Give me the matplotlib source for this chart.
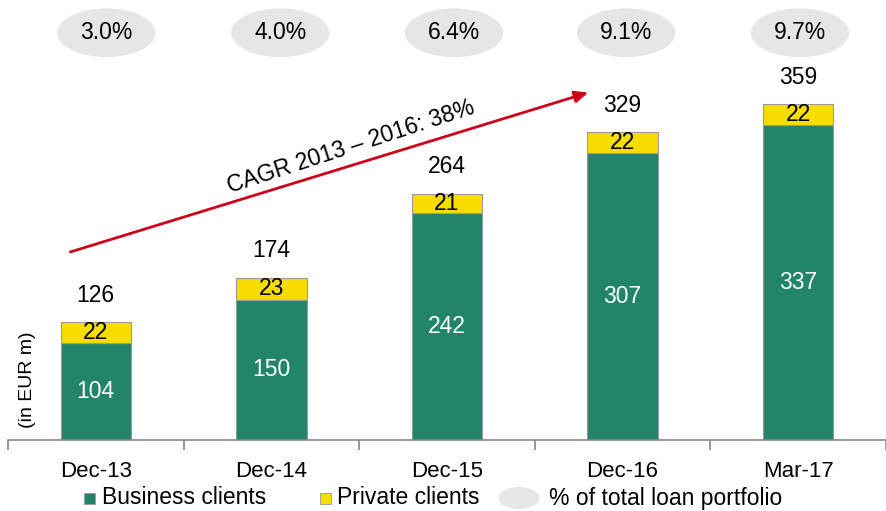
import numpy as np
import matplotlib.pyplot as plt
from matplotlib.patches import Ellipse, Rectangle

plt.rcParams['font.family'] = ['Liberation Sans', 'DejaVu Sans']

# data
periods = ['Dec-13', 'Dec-14', 'Dec-15', 'Dec-16', 'Mar-17']
business = [104, 150, 242, 307, 337]
private = [22, 23, 21, 22, 22]
totals = [126, 174, 264, 329, 359]
share = ['3.0%', '4.0%', '6.4%', '9.1%', '9.7%']
cagr_text = 'CAGR 2013 \u2013 2016: 38%'
legend_labels = ['Business clients', 'Private clients', '% of total loan portfolio']

green = '#21846B'
yellow = '#F7DC00'
grey = '#E6E6E6'
red = '#D0021B'

W, H = 886, 511
fig = plt.figure(figsize=(W / 100, H / 100), dpi=100)
ax = fig.add_axes([8 / W, 71 / H, 878 / W, 440 / H])

x = np.arange(len(periods))
w = 0.4
ax.bar(x, business, width=w, color=green, edgecolor='#9a9a9a', linewidth=0.8)
ax.bar(x, private, width=w, bottom=business, color=yellow, edgecolor='#9a9a9a', linewidth=0.8)

bubble_dx = [0.06, 0.05, 0.04, 0.02, 0.01]  # bubbles sit a bit right of the bars

for i in range(len(periods)):
    ax.text(x[i], business[i] / 2, str(business[i]), ha='center', va='center',
            color='white', fontsize=16.5)
    ax.text(x[i], business[i] + private[i] / 2, str(private[i]), ha='center', va='center',
            color='black', fontsize=16.5)
    ax.text(x[i], totals[i] + 28, str(totals[i]), ha='center', va='center',
            color='black', fontsize=16.5)
    # grey bubble with share of loan portfolio
    bx = x[i] + bubble_dx[i]
    ax.add_patch(Ellipse((bx, 435), 0.56, 52, color=grey, lw=0, clip_on=False))
    ax.text(bx, 435, share[i], ha='center', va='center', fontsize=16.5)

# CAGR arrow
ax.annotate('', xy=(2.82, 372), xytext=(-0.16, 200),
            arrowprops=dict(arrowstyle='-|>,head_length=0.8,head_width=0.35',
                            color=red, lw=2))
ax.text(1.45, 313, cagr_text, ha='center', va='center', rotation=18,
        fontsize=16.5, rotation_mode='anchor')

ax.set_xlim(-0.5, 4.5)
ax.set_ylim(0, 470)
for s in ['top', 'right', 'left']:
    ax.spines[s].set_visible(False)
ax.spines['bottom'].set_color('#888888')
ax.spines['bottom'].set_linewidth(1.2)
ax.set_yticks([])
ax.set_xticks(x)
ax.set_xticklabels(periods, fontsize=16)
ax.tick_params(axis='x', which='major', length=0, pad=15)
ax.set_xticks(np.arange(-0.5, 5, 1), minor=True)
ax.tick_params(axis='x', which='minor', length=7, color='#888888', width=1.2)

fig.text(28 / W, 1 - 380 / H, '(in EUR m)', rotation=90, ha='center',
         va='center', fontsize=14)

# legend, laid out by hand (pixel positions)
ly = 1 - 498 / H
fig.add_artist(Rectangle((84 / W, 1 - 504 / H), 11 / W, 11 / H, facecolor=green,
                         edgecolor='#9a9a9a', lw=0.6, transform=fig.transFigure))
fig.text(102 / W, ly, legend_labels[0], ha='left', va='center', fontsize=16.5)
fig.add_artist(Rectangle((320 / W, 1 - 504 / H), 11 / W, 11 / H, facecolor=yellow,
                         edgecolor='#9a9a9a', lw=0.6, transform=fig.transFigure))
fig.text(337 / W, ly, legend_labels[1], ha='left', va='center', fontsize=16.5)
fig.add_artist(Ellipse((519 / W, 1 - 498 / H), 41 / W, 22 / H, facecolor=grey,
                       lw=0, transform=fig.transFigure))
fig.text(549 / W, ly, legend_labels[2], ha='left', va='center', fontsize=16.5)

fig.savefig('out.png', dpi=100)
